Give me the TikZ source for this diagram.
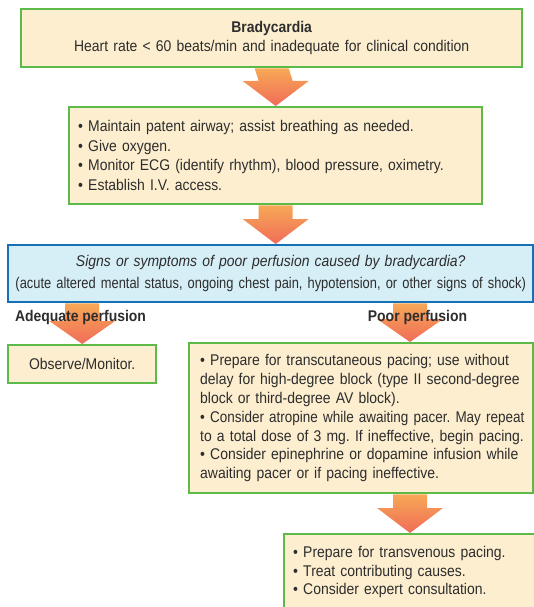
\documentclass[tikz,border=0pt]{standalone}
\usepackage{fontspec}
\setmainfont[FakeStretch=0.9]{Liberation Sans}
\newfontfamily\narrowfont[FakeStretch=0.83]{Liberation Sans}
\newfontfamily\tightfont[FakeStretch=0.87]{Liberation Sans}
\usetikzlibrary{calc,backgrounds}
\definecolor{cream}{RGB}{253,238,207}
\definecolor{boxgreen}{RGB}{94,186,72}
\definecolor{qblue}{RGB}{22,112,182}
\definecolor{qfill}{RGB}{214,238,246}
\definecolor{arrtop}{RGB}{247,168,86}
\definecolor{arrbot}{RGB}{240,108,88}
\definecolor{txt}{RGB}{45,45,45}
\frenchspacing
\hbadness=10000 \hfuzz=50pt
\newcommand\blockarrow[3]{% #1 shaft start, #2 tip, #3 head length
  \shade[top color=arrtop,bottom color=arrbot]
    ($(#1)+(-17,0)$) -- ($(#1)+(17,0)$) -- ($(#2)+(17,-#3)$) -- ($(#2)+(33,-#3)$)
    -- (#2) -- ($(#2)+(-33,-#3)$) -- ($(#2)+(-17,-#3)$) -- cycle;}
\begin{document}
\begin{tikzpicture}[x=1pt,y=-1pt,
  every node/.style={text=txt,font=\fontsize{15.5}{19.5}\selectfont},
  gbox/.style={draw=boxgreen,fill=cream,line width=2.4pt,anchor=north west,inner ysep=0pt},
  qbox/.style={draw=qblue,fill=qfill,line width=2.4pt,anchor=north west,inner ysep=0pt},
  lbl/.style={font=\fontsize{15.5}{19.5}\selectfont\bfseries}]
\useasboundingbox (0,0) rectangle (534,607);
% boxes
\node[gbox,minimum width=501,minimum height=58,text width=491,inner xsep=5,align=center] (brady) at (20,8)
  {\textbf{Bradycardia}\\Heart rate < 60 beats/min and inadequate for clinical condition};
\node[gbox,minimum width=405,minimum height=97,text width=395,inner xsep=9,align=left] (init) at (68,106)
  {• Maintain patent airway; assist breathing as needed.\\
   • Give oxygen.\\
   • Monitor ECG (identify rhythm), blood pressure, oximetry.\\
   • Establish I.V. access.};
\node[qbox,minimum width=525,minimum height=57,text width=521,inner xsep=2,align=center,
      font=\fontsize{15.5}{22}\selectfont] (signs) at (7,244)
  {\textit{Signs or symptoms of poor perfusion caused by bradycardia?}\\
   {\narrowfont (acute altered mental status, ongoing chest pain, hypotension, or other signs of shock)}};
\node[gbox,minimum width=148,minimum height=38,text width=144,inner xsep=2,align=center] (obs) at (7,344)
  {Observe/Monitor.};
\node[gbox,minimum width=344,minimum height=150,text width=322,inner xsep=11,align=left,
      font=\fontsize{15.5}{18.8}\selectfont] (poor) at (188,342)
  {\mbox{• Prepare for transcutaneous pacing; use without}\\
   \mbox{delay for high-degree block (type II second-degree}\\
   \mbox{block or third-degree AV block).}\\
   \mbox{\tightfont • Consider atropine while awaiting pacer. May repeat}\\
   \mbox{to a total dose of 3 mg. If ineffective, begin pacing.}\\
   \mbox{• Consider epinephrine or dopamine infusion while}\\
   \mbox{awaiting pacer or if pacing ineffective.}};
\node[gbox,minimum width=260,minimum height=76,text width=250,inner xsep=9,align=left,
      font=\fontsize{15.5}{18.5}\selectfont] (final) at (283,533)
  {• Prepare for transvenous pacing.\\
   • Treat contributing causes.\\
   • Consider expert consultation.};
% connector coordinates
\coordinate (ptip) at ($(poor.north west)+(222,0)$);
\coordinate (ftip) at ($(final.north west)+(127,0)$);
% arrows
\begin{scope}[on background layer]
  \blockarrow{brady.south}{init.north}{25}
  \blockarrow{init.south}{signs.north -| init.south}{25}
  \blockarrow{obs.north |- signs.south}{obs.north}{23}
  \blockarrow{ptip |- signs.south}{ptip}{23}
  \blockarrow{ftip |- poor.south}{ftip}{25}
\end{scope}
% labels
\node[lbl] (adq) at (80.5,317) {Adequate perfusion};
\node[lbl] (pp) at (417.5,317) {Poor perfusion};
\end{tikzpicture}
\end{document}
